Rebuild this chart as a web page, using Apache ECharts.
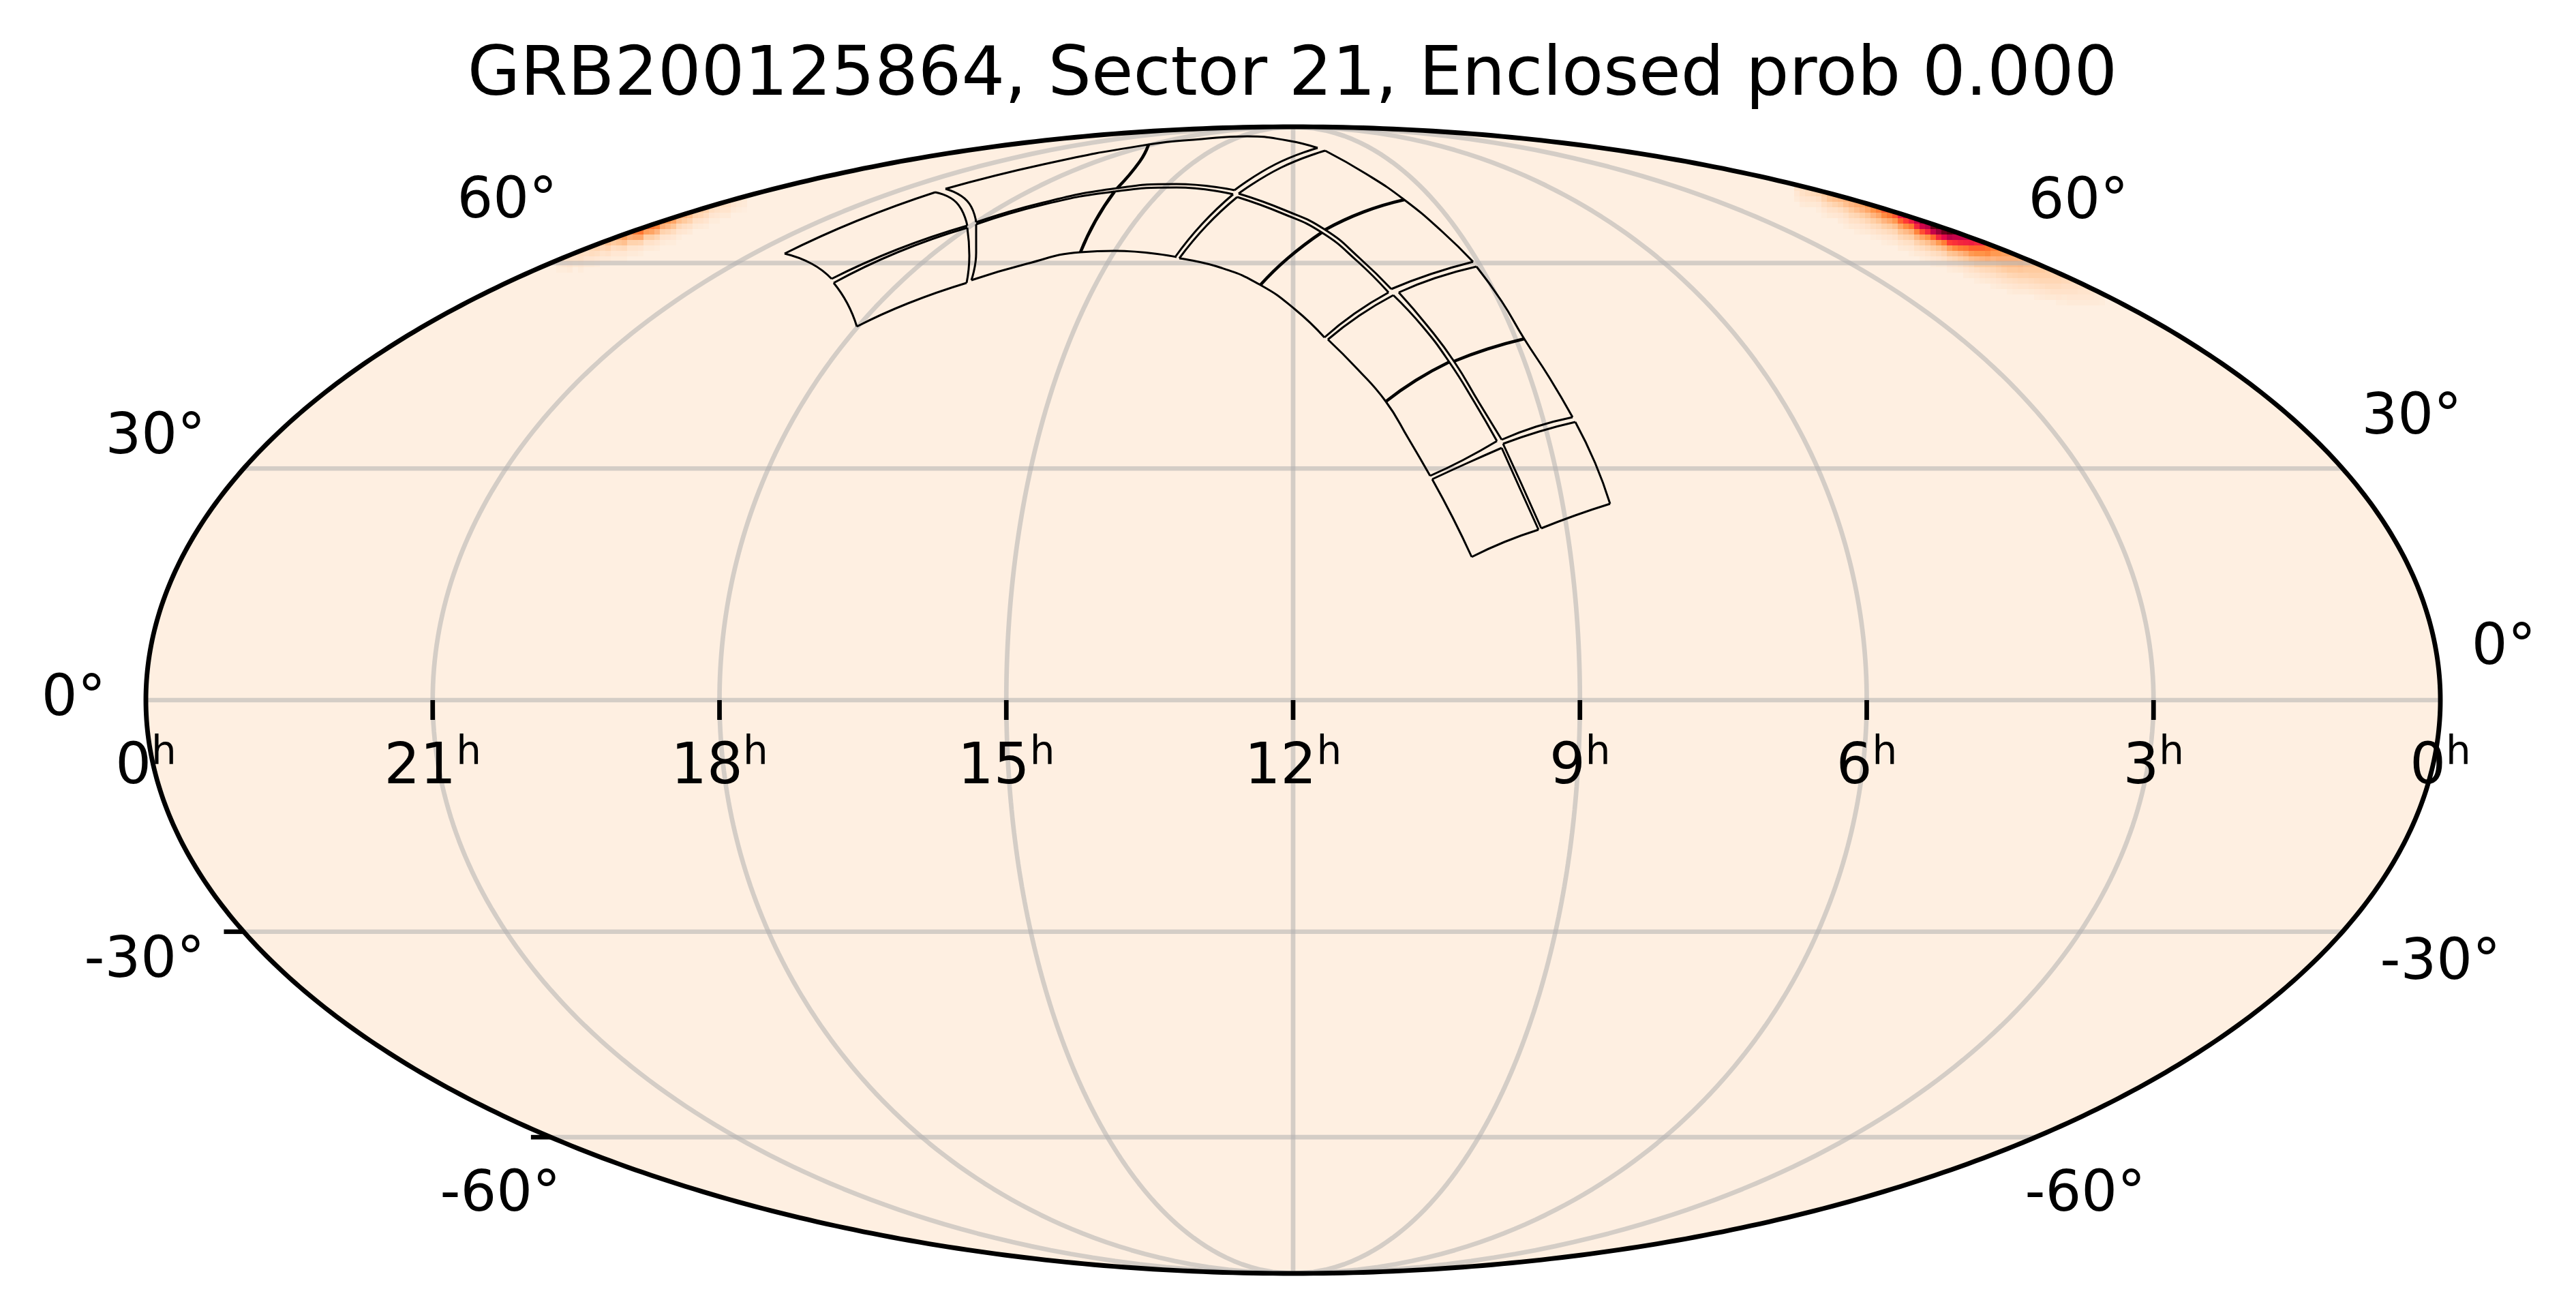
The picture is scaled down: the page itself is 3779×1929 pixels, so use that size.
<!DOCTYPE html>
<html>
<head>
<meta charset="utf-8">
<style>
  html, body { margin: 0; padding: 0; background: #fff; }
  #chart { width: 3779px; height: 1929px; }
</style>
<script src="https://cdn.jsdelivr.net/npm/echarts@6/dist/echarts.min.js"></script>
</head>
<body>
<div id="chart"></div>
<script>
const titleText = 'GRB200125864, Sector 21, Enclosed prob 0.000';

// sky plot units: mollweide half axes
const SKY_A = 1683, SKY_B = 841;

const raHours = [21, 18, 15, 12, 9, 6, 3];
const raLabels = ['0', '21', '18', '15', '12', '9', '6', '3', '0'];
const decLines = [-60, -30, 0, 30, 60];
const decTicks = [-60, -30];
const decLabels = [
  ['60°', -1153, 730], ['60°', 1152, 729],
  ['30°', -1669, 384], ['30°', 1641, 413],
  ['0°', -1789, 0], ['0°', 1776, 75],
  ['-30°', -1685, -384], ['-30°', 1683, -387],
  ['-60°', -1163, -727], ['-60°', 1162, -727],
];

// probability, percent. each column: first raster row, then values going down
const heatCell = 8, heatRowZero = 1027;
const heatRightX0 = 735;
const heatRight = [
  [33,8,8,5,3],[34,10,9,6,3],[34,12,11,7,4],[34,14,13,8,4],[34,17,15,10,5,2],[35,20,16,10,5,2],
  [35,25,22,13,8,4],[35,27,25,16,9,5],[35,28,27,19,11,6,3],[36,30,24,15,9,5,2],[36,30,28,20,13,8,4],
  [36,32,31,24,15,9,5,2],[36,33,34,28,18,11,6,3],[37,40,33,22,14,8,4],[37,48,40,28,18,11,6,2],
  [37,50,45,33,22,13,8,3],[38,54,42,28,17,10,5,2],[38,58,47,32,20,12,6,3],[38,66,54,38,24,14,8,4],
  [39,66,52,34,22,13,7,3],[39,72,60,42,26,16,9,4],[39,76,66,48,30,18,10,5,2],[40,76,64,44,27,16,9,4],
  [40,88,74,56,34,20,11,5,2],[40,92,78,64,40,24,14,7,3],[41,93,76,52,30,18,10,5,2],[41,97,84,64,38,22,12,6,3],
  [41,100,92,70,46,27,15,8,3],[42,96,78,60,36,22,12,6,2],[42,92,76,62,42,24,14,7,3],[42,84,76,64,46,28,17,9,4],
  [43,76,65,48,32,20,12,6,3],[43,76,66,52,38,24,14,8,4],[43,74,64,52,40,26,18,10,5,2],[44,66,52,40,28,19,12,7,3],
  [44,62,50,42,30,20,13,8,4],[44,54,46,38,28,20,14,9,5,2],[45,46,38,30,22,16,11,6,3],[45,42,36,30,24,18,12,8,4],
  [46,36,30,25,20,14,9,5,2],[46,33,30,25,20,15,10,6,3],[46,31,29,26,21,16,11,7,3],[47,26,24,20,16,11,7,3],
  [47,24,24,20,17,12,8,4],[48,22,20,17,13,9,5,2],[48,21,20,17,14,10,6,3],[49,18,17,14,11,7,4],
  [49,18,16,14,11,8,4],[49,16,16,14,11,8,5,2],[50,14,13,10,8,4,2],[50,13,13,10,8,5,3],
  [51,11,10,8,5,3],[51,10,9,7,5,3],[52,8,7,5,3],[52,7,7,5,3],[53,5,4,3],[53,4,3,2],
];
const heatLeftX0 = -1081;
const heatLeft = [
  [47,6,4,2],[47,8,5,2],[47,9,6,3],[46,10,8,4],[46,11,9,5,2],[45,12,10,6,3],[45,14,11,6,3],[45,16,10,5,2],
  [44,20,13,7,3],[44,24,15,8,3],[43,28,20,10,5,2],[43,32,22,11,5,2],[43,36,24,12,5,2],[42,40,30,16,7,3],
  [42,46,32,16,7,3],[42,48,32,15,6,2],[41,52,36,18,8,3],[41,48,34,18,8,3],[41,44,28,14,6,2],[40,42,30,16,7,3],
  [40,38,26,14,6,2],[40,34,22,11,5,2],[39,32,24,13,6,2],[39,28,20,10,5],[39,24,16,8,3],[38,22,16,9,4],
  [38,20,14,8,3],[38,17,11,6,2],[37,15,11,6,2],[37,13,9,5,2],[37,11,7,3],[37,10,7,3],[36,8,6,3],[36,6,4,2],[36,4,3,1],
];

// camera footprints, along the arc
const arcEdges = [
  // outer side
  [[-746,655],[-640,703],[-525,745]],
  [[-510,750],[-366,786],[-212,815],[-134,823],[-67,827],[-9,821],[36,810]],
  [[47,806],[107,772],[163,734],[219,687],[264,643]],
  [[269,636],[306,585],[339,530],[376,473],[410,415]],
  [[414,408],[443,348],[465,288]],
  // middle, upper strand
  [[-677,618],[-581,661],[-478,696]],
  [[-465,701],[-366,730],[-258,751],[-171,757],[-86,748]],
  [[-80,743],[-13,719],[47,690],[99,647],[144,603]],
  [[155,598],[197,549],[236,497],[273,436],[306,382]],
  [[308,376],[335,317],[364,252]],
  // middle, lower strand
  [[-674,612],[-580,657],[-478,693]],
  [[-465,698],[-366,727],[-262,746],[-171,752],[-88,742]],
  [[-82,738],[-16,714],[42,686],[94,644],[140,598]],
  [[147,594],[190,548],[229,496],[266,437],[299,380]],
  [[306,370],[332,312],[360,250]],
  // inner side
  [[-640,548],[-565,582],[-479,612]],
  [[-472,616],[-391,640],[-312,657],[-262,659],[-171,650]],
  [[-167,648],[-105,634],[-48,609],[3,573],[46,532]],
  [[51,529],[94,486],[136,438],[169,384],[201,329]],
  [[204,324],[234,268],[262,210]],
];
const crossEdges = [
  [[-746,655],[-706,640],[-677,618]],
  [[-525,745],[-494,730],[-478,696]],
  [[-510,750],[-478,732],[-465,701]],
  [[36,810],[-26,786],[-86,748]],
  [[47,806],[-18,781],[-80,743]],
  [[264,643],[202,625],[144,603]],
  [[269,636],[208,619],[155,598]],
  [[410,415],[356,401],[306,382]],
  [[414,408],[361,394],[308,376]],
  [[465,288],[414,271],[364,252]],
  [[-674,612],[-654,582],[-640,548]],
  [[-478,693],[-475,652],[-479,612]],
  [[-465,698],[-465,656],[-472,616]],
  [[-88,742],[-134,698],[-173,650]],
  [[-82,738],[-127,696],[-167,648]],
  [[140,598],[90,567],[46,532]],
  [[147,594],[97,564],[51,529]],
  [[299,380],[249,352],[201,329]],
  [[306,370],[254,347],[204,324]],
  [[360,250],[310,232],[262,210]],
];
// two ccd edges nearly on top of each other, reads as one heavier line
const seamEdges = [
  [[-212,815],[-225,790],[-258,751]],
  [[163,734],[103,716],[47,690]],
  [[339,530],[285,515],[236,497]],
  [[-262,746],[-290,703],[-312,657]],
  [[42,686],[-8,648],[-48,609]],
  [[229,496],[180,469],[136,438]],
];

const fontName = '"DejaVu Sans"';
const creamColor = '#FEEFE1';
const gridColor = 'rgba(176,176,176,0.55)';

function auxAngle(latDeg) {
  const target = Math.PI * Math.sin(latDeg * Math.PI / 180);
  let t = latDeg * Math.PI / 180;
  if (Math.abs(latDeg) === 90) return t;
  for (let i = 0; i < 30; i++) {
    t -= (2 * t + Math.sin(2 * t) - target) / (2 + 2 * Math.cos(2 * t));
  }
  return t;
}

// lon in degrees from the chart middle
function project(lonDeg, latDeg) {
  const t = auxAngle(latDeg);
  return [SKY_A * (lonDeg / 180) * Math.cos(t), SKY_B * Math.sin(t)];
}

function meridian(hour) {
  const pts = [];
  for (let lat = -90; lat <= 90; lat += 1) pts.push(project((hour - 12) * -15, lat));
  return pts;
}

function parallel(dec) {
  return [project(-180, dec), project(180, dec)];
}

const outlinePts = [];
for (let i = 0; i <= 720; i++) {
  const t = i / 720 * 2 * Math.PI;
  outlinePts.push([SKY_A * Math.cos(t), SKY_B * Math.sin(t)]);
}

function heatData(columns, x0) {
  const out = [];
  columns.forEach((col, i) => {
    col.slice(1).forEach((v, k) => {
      out.push([x0 + i * heatCell, heatRowZero - (col[0] + k) * heatCell, v]);
    });
  });
  return out;
}

function lineSeries(points, color, width, smooth) {
  return {
    type: 'line',
    data: points,
    showSymbol: false,
    symbol: 'none',
    silent: true,
    smooth: smooth ? 0.5 : false,
    lineStyle: { color: color, width: width, cap: 'butt' },
    z: smooth ? 4 : 3,
  };
}

const series = [
  {
    type: 'custom',
    silent: true,
    z: 1,
    data: [[0, 0]],
    renderItem: function (params, api) {
      return {
        type: 'polygon',
        shape: { points: outlinePts.map((p) => api.coord(p)) },
        style: { fill: creamColor },
      };
    },
  },
  {
    type: 'custom',
    silent: true,
    z: 2,
    encode: { x: 0, y: 1 },
    data: heatData(heatRight, heatRightX0).concat(heatData(heatLeft, heatLeftX0)),
    renderItem: function (params, api) {
      const x = api.value(0);
      const xMid = (x + heatCell / 2) / SKY_A;
      const edge = SKY_B * Math.sqrt(Math.max(0, 1 - xMid * xMid));
      const top = Math.min(api.value(1), edge);
      const bottom = api.value(1) - heatCell;
      if (top <= bottom) return null;
      const p0 = api.coord([x, top]);
      const p1 = api.coord([x + heatCell, bottom]);
      return {
        type: 'rect',
        shape: { x: p0[0], y: p0[1], width: p1[0] - p0[0], height: p1[1] - p0[1] },
        style: { fill: api.visual('color') },
      };
    },
  },
];

raHours.forEach((h) => series.push(lineSeries(meridian(h), gridColor, 6.7, false)));
decLines.forEach((d) => series.push(lineSeries(parallel(d), gridColor, 6.7, false)));

arcEdges.concat(crossEdges).forEach((e) => series.push(lineSeries(e, '#000', 3, true)));
seamEdges.forEach((e) => series.push(lineSeries(e, '#000', 4.6, true)));

// short ticks under the equator and left of the southern parallels
raHours.forEach((h) => {
  const x = project((h - 12) * -15, 0)[0];
  series.push(Object.assign(lineSeries([[x, 0], [x, -29]], '#000', 6.7, false), { z: 6 }));
});
decTicks.forEach((d) => {
  const p = project(-180, d);
  series.push(Object.assign(lineSeries([[p[0] - 29, p[1]], p], '#000', 6.7, false), { z: 6, clip: false }));
});

series.push({
  type: 'custom',
  silent: true,
  z: 7,
  data: [[0, 0]],
  renderItem: function (params, api) {
    return {
      type: 'polygon',
      shape: { points: outlinePts.map((p) => api.coord(p)) },
      style: { fill: 'none', stroke: '#000', lineWidth: 6.9 },
    };
  },
});

series.push({
  type: 'scatter',
  silent: true,
  clip: false,
  z: 8,
  symbolSize: 1,
  itemStyle: { color: 'transparent', opacity: 1 },
  data: raLabels.map((name, i) => ({ value: [SKY_A * (i / 4 - 1), -100], name: name })),
  label: {
    show: true,
    position: 'inside',
    opacity: 1,
    formatter: (p) => `{n|${p.name}}{s|h}`,
    rich: {
      n: { fontFamily: fontName, fontSize: 83, color: '#000', lineHeight: 100 },
      s: { fontFamily: fontName, fontSize: 58, color: '#000', lineHeight: 100, verticalAlign: 'top' },
    },
  },
});

series.push({
  type: 'scatter',
  silent: true,
  clip: false,
  z: 8,
  symbolSize: 1,
  itemStyle: { color: 'transparent', opacity: 1 },
  data: decLabels.map((d) => ({ value: [d[1], d[2]], name: d[0] })),
  label: {
    show: true,
    position: 'inside',
    opacity: 1,
    formatter: '{b}',
    fontFamily: fontName,
    fontSize: 83,
    color: '#000',
  },
});

const chart = echarts.init(document.getElementById('chart'), null, { renderer: 'canvas', devicePixelRatio: 1 });
chart.setOption({
  animation: false,
  backgroundColor: '#fff',
  title: {
    text: titleText,
    left: 1891,
    top: 58,
    textAlign: 'center',
    textStyle: { fontFamily: fontName, fontSize: 100, fontWeight: 'normal', color: '#000' },
  },
  grid: { left: 214, top: 186, width: 3366, height: 1682 },
  xAxis: { type: 'value', min: -SKY_A, max: SKY_A, show: false },
  yAxis: { type: 'value', min: -SKY_B, max: SKY_B, show: false },
  visualMap: {
    show: false,
    seriesIndex: 1,
    dimension: 2,
    min: 0,
    max: 100,
    inRange: {
      color: ['#FEEFE1', '#FFDFC4', '#FFCB9F', '#FFB078', '#FF9448', '#FF6E2C', '#FF3A35', '#E4084A', '#B00048', '#780020', '#3A0000'],
    },
  },
  series: series,
});
</script>
</body>
</html>
